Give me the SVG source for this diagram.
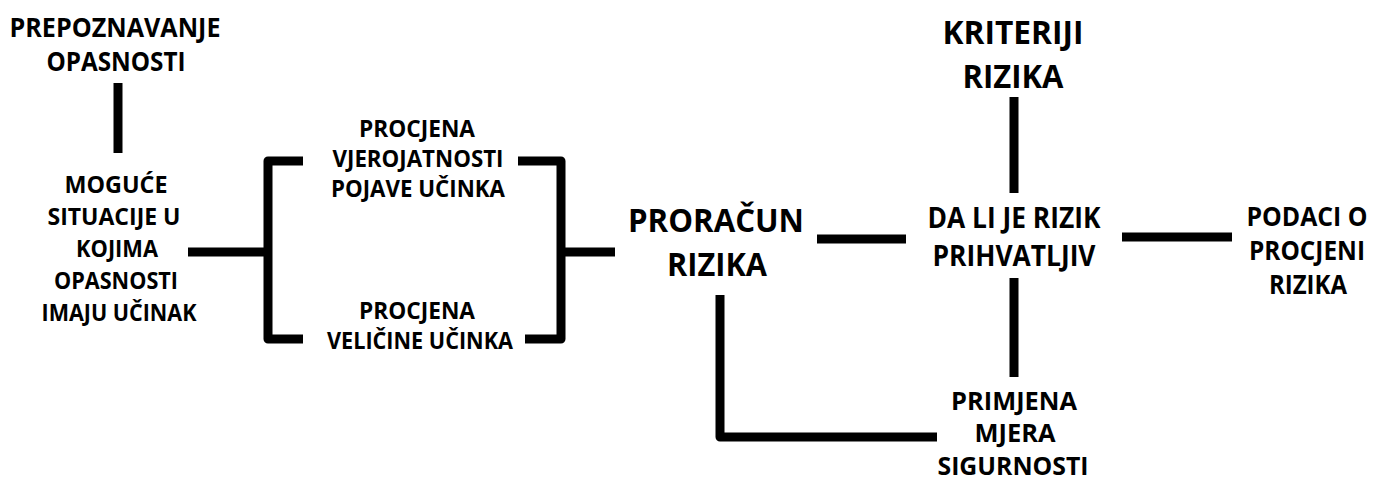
<svg xmlns="http://www.w3.org/2000/svg" width="1386" height="482" viewBox="0 0 1386 482">
<style>
text{font-family:"Open Sans","Noto Sans","Liberation Sans",sans-serif;font-weight:700;fill:#000;text-anchor:middle}
.a{font-size:26px}
.b{font-size:23px}
.c{font-size:32.5px}
.d{font-size:28px}
.e{font-size:24.5px}
.ln{fill:none;stroke:#000;stroke-width:9;stroke-linejoin:round;stroke-linecap:butt}
</style>
<rect width="1386" height="482" fill="#fff"/>
<g id="connectors">
<path class="ln" d="M118,83 V153"/>
<path class="ln" d="M188,252 H268"/>
<path class="ln" d="M303,161 H268 V339 H303"/>
<path class="ln" d="M518,161 H561 V339 H525"/>
<path class="ln" d="M561,252 H615"/>
<path class="ln" d="M817,239 H906"/>
<path class="ln" d="M720,295 V437 H937"/>
<path class="ln" d="M1014,97 V193"/>
<path class="ln" d="M1014,278 V377"/>
<path class="ln" d="M1122,237 H1232"/>
</g>
<g id="prepoznavanje">
<text class="a" x="115" y="37" textLength="211" lengthAdjust="spacingAndGlyphs">PREPOZNAVANJE</text>
<text class="a" x="116" y="71" textLength="139" lengthAdjust="spacingAndGlyphs">OPASNOSTI</text>
</g>
<g id="moguce">
<text class="b" x="116" y="193" textLength="103" lengthAdjust="spacingAndGlyphs">MOGUĆE</text>
<text class="b" x="114" y="225" textLength="133" lengthAdjust="spacingAndGlyphs">SITUACIJE U</text>
<text class="b" x="117" y="257" textLength="82" lengthAdjust="spacingAndGlyphs">KOJIMA</text>
<text class="b" x="116" y="289" textLength="124" lengthAdjust="spacingAndGlyphs">OPASNOSTI</text>
<text class="b" x="119" y="321" textLength="155" lengthAdjust="spacingAndGlyphs">IMAJU UČINAK</text>
</g>
<g id="vjerojatnost">
<text class="b" x="417" y="137" textLength="116" lengthAdjust="spacingAndGlyphs">PROCJENA</text>
<text class="b" x="418" y="167" textLength="171" lengthAdjust="spacingAndGlyphs">VJEROJATNOSTI</text>
<text class="b" x="418" y="197" textLength="174" lengthAdjust="spacingAndGlyphs">POJAVE UČINKA</text>
</g>
<g id="velicina">
<text class="b" x="417" y="319" textLength="116" lengthAdjust="spacingAndGlyphs">PROCJENA</text>
<text class="b" x="420" y="349" textLength="186" lengthAdjust="spacingAndGlyphs">VELIČINE UČINKA</text>
</g>
<g id="proracun">
<text class="c" x="716" y="232" textLength="176" lengthAdjust="spacingAndGlyphs">PRORAČUN</text>
<text class="c" x="717" y="276" textLength="100" lengthAdjust="spacingAndGlyphs">RIZIKA</text>
</g>
<g id="kriteriji">
<text class="c" x="1013" y="44" textLength="141" lengthAdjust="spacingAndGlyphs">KRITERIJI</text>
<text class="c" x="1013" y="88" textLength="101" lengthAdjust="spacingAndGlyphs">RIZIKA</text>
</g>
<g id="prihvatljiv">
<text class="d" x="1014" y="228" textLength="173" lengthAdjust="spacingAndGlyphs">DA LI JE RIZIK</text>
<text class="d" x="1014" y="266" textLength="163" lengthAdjust="spacingAndGlyphs">PRIHVATLJIV</text>
</g>
<g id="podaci">
<text class="a" x="1307" y="226" textLength="121" lengthAdjust="spacingAndGlyphs">PODACI O</text>
<text class="a" x="1307" y="260" textLength="116" lengthAdjust="spacingAndGlyphs">PROCJENI</text>
<text class="a" x="1308" y="294" textLength="78" lengthAdjust="spacingAndGlyphs">RIZIKA</text>
</g>
<g id="primjena">
<text class="e" x="1014" y="410" textLength="126" lengthAdjust="spacingAndGlyphs">PRIMJENA</text>
<text class="e" x="1015" y="442" textLength="81" lengthAdjust="spacingAndGlyphs">MJERA</text>
<text class="e" x="1013" y="475" textLength="151" lengthAdjust="spacingAndGlyphs">SIGURNOSTI</text>
</g>
</svg>
